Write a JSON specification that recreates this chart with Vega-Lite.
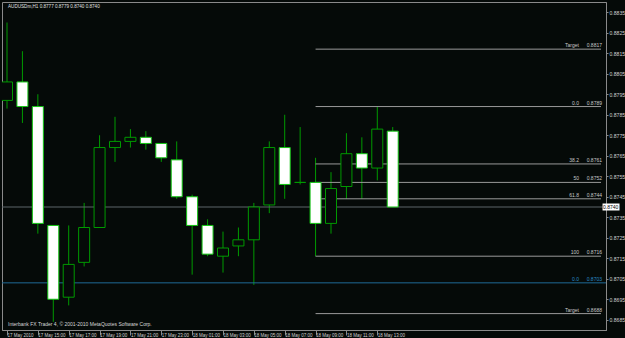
{
  "$schema": "https://vega.github.io/schema/vega-lite/v6.json",
  "width": 604,
  "height": 328,
  "autosize": {"type": "none"},
  "padding": {"left": 2, "top": 2, "right": 19, "bottom": 8},
  "background": "#050a08",
  "resolve": {"axis": {"x": "independent", "y": "independent"}},
  "config": {
    "view": {"stroke": "#8a8a8a", "strokeWidth": 1},
    "font": "Liberation Sans",
    "axis": {"grid": false, "domainColor": "#8a8a8a", "tickColor": "#8a8a8a", "labelColor": "#d0d0d0", "labelFontSize": 5, "labelFont": "Liberation Sans", "labelOverlap": false, "labelFlush": false, "labelBound": false},
    "axisX": {"labelFontSize": 4.5},
    "axisY": {"labelOverlap": false, "labelFontSize": 5.1}
  },
  "datasets": {
    "candles": [
      {"t": "2010-05-17T13:00:00Z", "o": 0.8792, "h": 0.8830, "l": 0.8788, "c": 0.8801},
      {"t": "2010-05-17T14:00:00Z", "o": 0.8801, "h": 0.8816, "l": 0.8781, "c": 0.8789},
      {"t": "2010-05-17T15:00:00Z", "o": 0.8789, "h": 0.8795, "l": 0.8727, "c": 0.8732},
      {"t": "2010-05-17T16:00:00Z", "o": 0.8731, "h": 0.8731, "l": 0.8684, "c": 0.8695},
      {"t": "2010-05-17T17:00:00Z", "o": 0.8696, "h": 0.8731, "l": 0.8692, "c": 0.8712},
      {"t": "2010-05-17T18:00:00Z", "o": 0.8713, "h": 0.8742, "l": 0.8711, "c": 0.8730},
      {"t": "2010-05-17T19:00:00Z", "o": 0.8730, "h": 0.8775, "l": 0.8730, "c": 0.8769},
      {"t": "2010-05-17T20:00:00Z", "o": 0.8769, "h": 0.8784, "l": 0.8762, "c": 0.8772},
      {"t": "2010-05-17T21:00:00Z", "o": 0.8772, "h": 0.8778, "l": 0.8769, "c": 0.8774},
      {"t": "2010-05-17T22:00:00Z", "o": 0.8774, "h": 0.8777, "l": 0.8768, "c": 0.8771},
      {"t": "2010-05-17T23:00:00Z", "o": 0.8771, "h": 0.8771, "l": 0.8762, "c": 0.8764},
      {"t": "2010-05-18T00:00:00Z", "o": 0.8763, "h": 0.8772, "l": 0.8744, "c": 0.8745},
      {"t": "2010-05-18T01:00:00Z", "o": 0.8745, "h": 0.8746, "l": 0.8707, "c": 0.8731},
      {"t": "2010-05-18T02:00:00Z", "o": 0.8731, "h": 0.8734, "l": 0.8716, "c": 0.8717},
      {"t": "2010-05-18T03:00:00Z", "o": 0.8716, "h": 0.8728, "l": 0.8708, "c": 0.8720},
      {"t": "2010-05-18T04:00:00Z", "o": 0.8721, "h": 0.8730, "l": 0.8716, "c": 0.8724},
      {"t": "2010-05-18T05:00:00Z", "o": 0.8724, "h": 0.8742, "l": 0.8702, "c": 0.8740},
      {"t": "2010-05-18T06:00:00Z", "o": 0.8741, "h": 0.8772, "l": 0.8737, "c": 0.8769},
      {"t": "2010-05-18T07:00:00Z", "o": 0.8769, "h": 0.8785, "l": 0.8744, "c": 0.8751},
      {"t": "2010-05-18T08:00:00Z", "o": 0.8752, "h": 0.8779, "l": 0.8751, "c": 0.8752},
      {"t": "2010-05-18T09:00:00Z", "o": 0.8752, "h": 0.8764, "l": 0.8716, "c": 0.8732},
      {"t": "2010-05-18T10:00:00Z", "o": 0.8732, "h": 0.8757, "l": 0.8727, "c": 0.8749},
      {"t": "2010-05-18T11:00:00Z", "o": 0.8750, "h": 0.8776, "l": 0.8744, "c": 0.8766},
      {"t": "2010-05-18T12:00:00Z", "o": 0.8766, "h": 0.8774, "l": 0.8744, "c": 0.8759},
      {"t": "2010-05-18T13:00:00Z", "o": 0.8759, "h": 0.8789, "l": 0.8753, "c": 0.8778},
      {"t": "2010-05-18T14:00:00Z", "o": 0.8777, "h": 0.8779, "l": 0.8740, "c": 0.8740}
    ],
    "fibo": [
      {"t": "2010-05-18T09:00:00Z", "name": "Target", "p": 0.8817},
      {"t": "2010-05-18T09:00:00Z", "name": "0.0", "p": 0.8789},
      {"t": "2010-05-18T09:00:00Z", "name": "38.2", "p": 0.8761},
      {"t": "2010-05-18T09:00:00Z", "name": "50", "p": 0.8752},
      {"t": "2010-05-18T09:00:00Z", "name": "61.8", "p": 0.8744},
      {"t": "2010-05-18T09:00:00Z", "name": "100", "p": 0.8716},
      {"t": "2010-05-18T09:00:00Z", "name": "Target", "p": 0.8688}
    ],
    "fibo2": [{"name": "0.0", "p": 0.8703}],
    "last": [{"p": 0.8740}]
  },
  "layer": [
    {
      "data": {"name": "candles"},
      "mark": {"type": "rule", "color": "#009a00", "strokeWidth": 1, "clip": true},
      "encoding": {
        "x": {
          "field": "t", "type": "temporal",
          "scale": {"type": "utc", "domain": [{"year": 2010, "month": 5, "date": 17, "hours": 13, "utc": true}, {"year": 2010, "month": 5, "date": 19, "hours": 3, "minutes": 30, "utc": true}]},
          "axis": {
            "orient": "bottom",
            "title": null,
            "values": [
              {"year": 2010, "month": 5, "date": 17, "hours": 13, "utc": true},
              {"year": 2010, "month": 5, "date": 17, "hours": 15, "utc": true},
              {"year": 2010, "month": 5, "date": 17, "hours": 17, "utc": true},
              {"year": 2010, "month": 5, "date": 17, "hours": 19, "utc": true},
              {"year": 2010, "month": 5, "date": 17, "hours": 21, "utc": true},
              {"year": 2010, "month": 5, "date": 17, "hours": 23, "utc": true},
              {"year": 2010, "month": 5, "date": 18, "hours": 1, "utc": true},
              {"year": 2010, "month": 5, "date": 18, "hours": 3, "utc": true},
              {"year": 2010, "month": 5, "date": 18, "hours": 5, "utc": true},
              {"year": 2010, "month": 5, "date": 18, "hours": 7, "utc": true},
              {"year": 2010, "month": 5, "date": 18, "hours": 9, "utc": true},
              {"year": 2010, "month": 5, "date": 18, "hours": 11, "utc": true},
              {"year": 2010, "month": 5, "date": 18, "hours": 13, "utc": true}
            ],
            "labelExpr": "datum.index == 0 ? '17 May 2010' : utcFormat(datum.value, '%d %b %H:%M')",
            "labelAlign": "left",
            "labelBaseline": "top",
            "labelFontSize": 4.5,
            "tickSize": 5,
            "labelPadding": -3,
            "labelFlush": false,
            "labelOverlap": false,
            "labelBound": false,
            "grid": false
          }
        },
        "y": {
          "field": "l", "type": "quantitative",
          "scale": {"domain": [0.868, 0.884], "nice": false, "zero": false},
          "axis": {
            "orient": "right",
            "title": null,
            "values": [0.8835, 0.8825, 0.8815, 0.8805, 0.8795, 0.8785, 0.8775, 0.8765, 0.8755, 0.8745, 0.8735, 0.8725, 0.8715, 0.8705, 0.8695, 0.8685],
            "format": ".4f",
            "labelAlign": "left",
            "labelBaseline": "middle",
            "tickSize": 2,
            "labelPadding": 1,
            "labelFlush": false,
            "labelOverlap": false,
            "grid": false
          }
        },
        "y2": {"field": "h"}
      }
    },
    {
      "data": {"name": "last"},
      "mark": {"type": "rule", "color": "#5c6468", "strokeWidth": 1},
      "encoding": {
        "y": {"field": "p", "type": "quantitative", "axis": null}
      }
    },
    {
      "data": {"name": "fibo2"},
      "mark": {"type": "rule", "color": "#1f6a96", "strokeWidth": 1},
      "encoding": {
        "y": {"field": "p", "type": "quantitative", "axis": null}
      }
    },
    {
      "data": {"name": "fibo"},
      "mark": {"type": "rule", "color": "#9a9a9a", "strokeWidth": 1},
      "encoding": {
        "x": {"field": "t", "type": "temporal", "axis": null},
        "x2": {"datum": {"year": 2010, "month": 5, "date": 19, "hours": 3, "minutes": 30, "utc": true}},
        "y": {"field": "p", "type": "quantitative", "axis": null}
      }
    },
    {
      "data": {"name": "candles"},
      "mark": {"type": "bar", "size": 11, "strokeWidth": 1, "clip": true},
      "encoding": {
        "x": {"field": "t", "type": "temporal", "axis": null},
        "y": {"field": "o", "type": "quantitative", "axis": null},
        "y2": {"field": "c"},
        "fill": {"condition": {"test": "datum.o > datum.c", "value": "#ffffff"}, "value": "#050a08"},
        "stroke": {"condition": {"test": "datum.o > datum.c", "value": "#12c412"}, "value": "#009a00"}
      }
    },
    {
      "data": {"name": "fibo"},
      "mark": {"type": "text", "align": "right", "baseline": "bottom", "dy": -1, "dx": 1, "fontSize": 5, "color": "#c8c8c8"},
      "encoding": {
        "x": {"datum": {"year": 2010, "month": 5, "date": 19, "hours": 3, "minutes": 30, "utc": true}, "type": "temporal", "axis": null},
        "y": {"field": "p", "type": "quantitative", "axis": null},
        "text": {"field": "p", "type": "quantitative", "format": ".4f"}
      }
    },
    {
      "data": {"name": "fibo"},
      "mark": {"type": "text", "align": "right", "baseline": "bottom", "dy": -1, "dx": -22, "fontSize": 5, "color": "#c8c8c8"},
      "encoding": {
        "x": {"datum": {"year": 2010, "month": 5, "date": 19, "hours": 3, "minutes": 30, "utc": true}, "type": "temporal", "axis": null},
        "y": {"field": "p", "type": "quantitative", "axis": null},
        "text": {"field": "name", "type": "nominal"}
      }
    },
    {
      "data": {"name": "fibo2"},
      "mark": {"type": "text", "align": "right", "baseline": "bottom", "dy": -1, "dx": 1, "fontSize": 5, "color": "#2a8cc8"},
      "encoding": {
        "x": {"datum": {"year": 2010, "month": 5, "date": 19, "hours": 3, "minutes": 30, "utc": true}, "type": "temporal", "axis": null},
        "y": {"field": "p", "type": "quantitative", "axis": null},
        "text": {"field": "p", "type": "quantitative", "format": ".4f"}
      }
    },
    {
      "data": {"name": "fibo2"},
      "mark": {"type": "text", "align": "right", "baseline": "bottom", "dy": -1, "dx": -22, "fontSize": 5, "color": "#2a8cc8"},
      "encoding": {
        "x": {"datum": {"year": 2010, "month": 5, "date": 19, "hours": 3, "minutes": 30, "utc": true}, "type": "temporal", "axis": null},
        "y": {"field": "p", "type": "quantitative", "axis": null},
        "text": {"field": "name", "type": "nominal"}
      }
    },
    {
      "data": {"name": "last"},
      "mark": {"type": "rect", "fill": "#ffffff", "clip": false, "height": 7},
      "encoding": {
        "x": {"datum": {"year": 2010, "month": 5, "date": 19, "hours": 3, "minutes": 36, "utc": true}, "type": "temporal", "axis": null},
        "x2": {"datum": {"year": 2010, "month": 5, "date": 19, "hours": 4, "minutes": 42, "utc": true}},
        "y": {"field": "p", "type": "quantitative", "axis": null}
      }
    },
    {
      "data": {"name": "last"},
      "mark": {"type": "text", "align": "left", "baseline": "middle", "dx": 2, "fontSize": 5, "color": "#000000"},
      "encoding": {
        "x": {"datum": {"year": 2010, "month": 5, "date": 19, "hours": 3, "minutes": 30, "utc": true}, "type": "temporal", "axis": null},
        "y": {"field": "p", "type": "quantitative", "axis": null},
        "text": {"field": "p", "type": "quantitative", "format": ".4f"}
      }
    },
    {
      "data": {"values": [{"label": "AUDUSDm,H1  0.8777 0.8779 0.8740 0.8740"}]},
      "mark": {"type": "text", "align": "left", "baseline": "top", "dx": 1, "dy": 2, "fontSize": 4.6, "color": "#e0e0e0"},
      "encoding": {
        "x": {"datum": {"year": 2010, "month": 5, "date": 17, "hours": 13, "utc": true}, "type": "temporal", "axis": null},
        "y": {"datum": 0.884, "type": "quantitative", "axis": null},
        "text": {"field": "label", "type": "nominal"}
      }
    },
    {
      "data": {"values": [{"label": "Interbank FX Trader 4, © 2001-2010 MetaQuotes Software Corp."}]},
      "mark": {"type": "text", "align": "left", "baseline": "bottom", "dx": 1, "dy": -3, "fontSize": 5, "color": "#d8d8d8"},
      "encoding": {
        "x": {"datum": {"year": 2010, "month": 5, "date": 17, "hours": 13, "utc": true}, "type": "temporal", "axis": null},
        "y": {"datum": 0.868, "type": "quantitative", "axis": null},
        "text": {"field": "label", "type": "nominal"}
      }
    }
  ]
}
